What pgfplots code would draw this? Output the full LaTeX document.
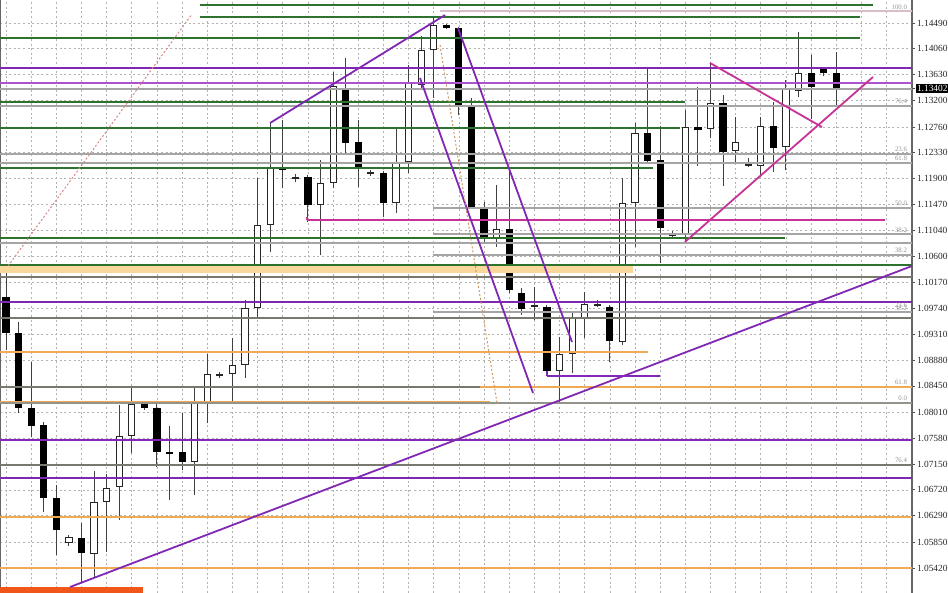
\documentclass[border=0pt]{standalone}
\usepackage{pgfplots}
\pgfplotsset{compat=1.18}
\usepackage{pgfplotstable}
\usepackage{fontspec}
\setmainfont{Liberation Serif}

\definecolor{mtpurple}{RGB}{128,40,180}
\definecolor{mtlav}{RGB}{172,84,205}
\definecolor{mtmag}{RGB}{200,50,150}
\definecolor{mtgreen}{RGB}{45,115,45}
\definecolor{mtgray}{RGB}{165,165,165}
\definecolor{mtdgray}{RGB}{120,120,110}
\definecolor{mtorange}{RGB}{240,170,85}
\definecolor{mtband}{RGB}{250,215,155}
\definecolor{mtred}{RGB}{240,85,25}
\definecolor{mtpink}{RGB}{215,135,135}
\definecolor{mtpinkl}{RGB}{215,190,200}
\definecolor{mtbrown}{RGB}{205,150,90}

% bullish candles: index open high low close
\pgfplotstableread{
i o h l c
5 1.05836 1.05970 1.05786 1.05936
7 1.05653 1.07035 1.05271 1.06519
8 1.06519 1.06985 1.05687 1.06752
9 1.06768 1.08133 1.06219 1.07617
10 1.07617 1.08433 1.07334 1.08150
15 1.07184 1.08433 1.06635 1.08183
16 1.08166 1.08982 1.07833 1.08649
17 1.08615 1.08682 1.08582 1.08649
18 1.08649 1.09248 1.08166 1.08799
19 1.08799 1.09881 1.08582 1.09747
20 1.09747 1.11911 1.09581 1.11129
21 1.11129 1.12826 1.10679 1.12094
23 1.11894 1.11977 1.11844 1.11928
25 1.11461 1.12210 1.10629 1.11828
26 1.11828 1.13675 1.11744 1.13442
29 1.11977 1.12044 1.11944 1.12010
31 1.11495 1.12743 1.11328 1.12177
32 1.12177 1.13791 1.11994 1.13492
33 1.13458 1.14274 1.13375 1.14041
34 1.14041 1.14573 1.13242 1.14457
39 1.10896 1.11795 1.10762 1.11062
42 1.09764 1.10097 1.09547 1.09797
44 1.08699 1.09265 1.08166 1.08982
45 1.08982 1.09681 1.08665 1.09581
46 1.09581 1.10014 1.09248 1.09814
47 1.09781 1.09881 1.09764 1.09814
49 1.09181 1.11911 1.09132 1.11495
50 1.11495 1.12826 1.10762 1.12660
53 1.10945 1.11029 1.10896 1.10979
54 1.10962 1.13043 1.10829 1.12759
56 1.12726 1.13841 1.12576 1.13159
58 1.12360 1.12926 1.12160 1.12510
59 1.12110 1.12244 1.12094 1.12144
60 1.12110 1.12926 1.11928 1.12776
62 1.12427 1.13542 1.12044 1.13392
63 1.13359 1.14340 1.13259 1.13658
}\bull

% bearish candles: index open high low close
\pgfplotstableread{
i o h l c
0 1.09930 1.10430 1.09048 1.09331
1 1.09331 1.09514 1.08000 1.08083
2 1.08083 1.08849 1.07600 1.07784
3 1.07800 1.07850 1.06352 1.06585
4 1.06585 1.06802 1.05637 1.06053
6 1.05920 1.06169 1.05187 1.05670
11 1.08166 1.08183 1.08050 1.08083
12 1.08083 1.08150 1.07101 1.07351
13 1.07351 1.07784 1.06552 1.07318
14 1.07351 1.08000 1.07051 1.07184
22 1.12094 1.12876 1.11744 1.12044
24 1.11928 1.11961 1.11178 1.11461
27 1.13408 1.13908 1.12327 1.12493
28 1.12510 1.12876 1.11761 1.12060
30 1.11994 1.12027 1.11262 1.11495
35 1.14457 1.14474 1.14390 1.14407
36 1.14407 1.14424 1.12959 1.13126
37 1.13109 1.13242 1.11411 1.11428
38 1.11411 1.11511 1.10829 1.10896
40 1.11062 1.12044 1.09997 1.10047
41 1.09997 1.10080 1.09631 1.09731
43 1.09764 1.09797 1.08682 1.08699
48 1.09764 1.09797 1.08849 1.09198
51 1.12660 1.13758 1.12160 1.12194
52 1.12210 1.12776 1.10496 1.11079
55 1.12759 1.13425 1.12110 1.12708
57 1.13159 1.13292 1.11778 1.12343
61 1.12776 1.13176 1.12010 1.12410
64 1.13658 1.13958 1.12893 1.13425
65 1.13725 1.13725 1.13608 1.13658
66 1.13658 1.14008 1.13092 1.13392
}\bear

\newcommand{\hl}[4]{\addplot[#4] coordinates {(#1,#3) (#2,#3)};}
\newcommand{\fib}[2]{\node[anchor=south east, font=\fontsize{3.4}{3.6}\selectfont, text=gray!85, inner sep=0.3pt] at (axis cs:71.7,#1) {#2};}

\begin{document}
\begin{tikzpicture}
\useasboundingbox (0,0) rectangle (474pt,296.5pt);
\begin{axis}[
  at={(0,0)}, anchor=south west,
  scale only axis, width=456pt, height=296.5pt,
  xmin=-0.48, xmax=72.02, ymin=1.05004, ymax=1.14873,
  no markers,
  xtick={0,2,...,72}, xticklabels={}, xtick style={draw=none},
  ytick={1.05420,1.05850,1.06290,1.06720,1.07150,1.07580,1.08010,1.08450,1.08880,1.09310,1.09740,1.10170,1.10600,1.11040,1.11470,1.11900,1.12330,1.12760,1.13200,1.13630,1.14060,1.14490},
  yticklabels={1.05420,1.05850,1.06290,1.06720,1.07150,1.07580,1.08010,1.08450,1.08880,1.09310,1.09740,1.10170,1.10600,1.11040,1.11470,1.11900,1.12330,1.12760,1.13200,1.13630,1.14060,1.14490},
  ytick pos=right, yticklabel pos=right,
  tick align=outside, major tick length=1.6pt,
  ytick style={black!70, line width=0.4pt},
  grid=major,
  major grid style={gray!60, line width=0.35pt, dash pattern=on 1pt off 1.3pt},
  separate axis lines,
  x axis line style={draw=none},
  y axis line style={draw=black!60, line width=0.6pt},
  yticklabel style={font=\fontsize{4.7}{5}\selectfont, text=black!85, inner sep=0.7pt, anchor=west},
  extra y ticks={1.13402}, extra y tick labels={1.13402},
  extra y tick style={grid=none, yticklabel style={fill=black, text=white}},
]

% ---- candles: wicks
\addplot[draw=none, error bars/.cd, y dir=plus, y explicit, error mark=none,
  error bar style={draw=black!75, line width=0.5pt}]
  table[x=i, y=l, y error expr=\thisrow{h}-\thisrow{l}] {\bull};
\addplot[draw=none, error bars/.cd, y dir=plus, y explicit, error mark=none,
  error bar style={draw=black!75, line width=0.5pt}]
  table[x=i, y=l, y error expr=\thisrow{h}-\thisrow{l}] {\bear};
% ---- bearish bodies
\addplot[draw=none, error bars/.cd, y dir=plus, y explicit, error mark=none,
  error bar style={draw=black, line width=3.6pt}]
  table[x=i, y=c, y error expr=\thisrow{o}-\thisrow{c}] {\bear};
% ---- bullish bodies (outline then white fill)
\addplot[draw=none, error bars/.cd, y dir=plus, y explicit, error mark=none,
  error bar style={draw=black!85, line width=3.6pt}]
  table[x=i, y=o, y error expr=\thisrow{c}-\thisrow{o}] {\bull};
\addplot[draw=none, error bars/.cd, y dir=plus, y explicit, error mark=none,
  error bar style={draw=white, line width=2.6pt}]
  table[x=i, y expr=\thisrow{o}+0.00017, y error expr={max(\thisrow{c}-\thisrow{o}-0.00034,0)}] {\bull};

% ---- horizontal levels
\hl{15.42}{68.92}{1.14790}{mtgreen, line width=0.8pt}
\hl{34.5}{73}{1.14690}{mtpinkl, line width=0.7pt}
\hl{15.42}{67.89}{1.14590}{mtgreen, line width=0.8pt}
\hl{-1}{67.89}{1.14241}{mtgreen, line width=0.8pt}
\hl{-1}{73}{1.13741}{mtpurple, line width=1.3pt}
\hl{-1}{73}{1.13492}{mtlav, line width=1.3pt}
\hl{-1}{73}{1.13392}{mtgray, line width=0.6pt}
\hl{-1}{53.97}{1.13176}{mtgreen, line width=0.8pt}
\hl{-1}{73}{1.13109}{mtgray, line width=0.7pt}
\hl{-1}{53.58}{1.12743}{mtgreen, line width=0.8pt}
\hl{-1}{73}{1.12310}{mtgray, line width=0.7pt}
\hl{-1}{73}{1.12160}{mtgray, line width=1.1pt}
\hl{-1}{51.43}{1.12077}{mtgreen, line width=0.8pt}
\hl{33.94}{73}{1.11411}{mtgray, line width=0.7pt}
\hl{23.93}{69.87}{1.11212}{mtmag, line width=0.9pt}
\addplot[mtmag, line width=0.9pt] coordinates {(23.93,1.11262) (23.93,1.11212)};
\hl{33.94}{73}{1.10979}{mtgray, line width=0.6pt}
\hl{-1}{61.92}{1.10912}{mtgreen, line width=0.8pt}
\hl{-1}{73}{1.10829}{mtgray, line width=0.7pt}
\hl{33.94}{73}{1.10629}{mtgray, line width=0.7pt}
\hl{-1}{73}{1.10463}{mtgreen, line width=0.8pt}
\hl{-1}{49.84}{1.10380}{mtband, line width=3.5pt}
\hl{-1}{73}{1.10263}{mtdgray, line width=0.7pt}
\hl{-1}{73}{1.09847}{mtpurple, line width=1.3pt}
\hl{33.94}{73}{1.09681}{mtgray, line width=0.7pt}
\hl{-1}{73}{1.09581}{mtdgray, line width=0.8pt}
\hl{-1}{51.03}{1.09014}{mtorange, line width=0.9pt}
\hl{43.0}{51.99}{1.08615}{mtpurple, line width=0.9pt}
\addplot[mtpurple, line width=0.9pt] coordinates {(43.0,1.08699) (43.0,1.08615)};
\hl{-1}{73}{1.08433}{mtdgray, line width=0.7pt}
\hl{37.68}{73}{1.08433}{mtorange, line width=1.2pt}
\hl{-1}{38.47}{1.08183}{mtorange, line width=0.9pt}
\hl{-1}{73}{1.08166}{mtdgray!80, line width=0.6pt}
\hl{-1}{73}{1.07551}{mtpurple, line width=1.3pt}
\hl{-1}{73}{1.07134}{mtdgray, line width=0.8pt}
\hl{-1}{73}{1.06918}{mtpurple, line width=1.3pt}
\hl{-1}{73}{1.06269}{mtorange, line width=1pt}
\hl{-1}{73}{1.05420}{mtorange, line width=1pt}
\hl{-1}{10.89}{1.05046}{mtred, line width=3pt}

% ---- trend lines and channels
\addplot[mtpurple, line width=0.9pt] coordinates {(5.09,1.05104) (72.02,1.10446)};
\addplot[mtpurple, line width=0.9pt] coordinates {(20.99,1.12826) (34.90,1.14623)};
\addplot[mtpurple, line width=0.9pt] coordinates {(32.91,1.13575) (41.89,1.08333)};
\addplot[mtpurple, line width=0.9pt] coordinates {(35.93,1.14407) (44.99,1.09181)};
\addplot[mtmag, line width=0.9pt] coordinates {(55.96,1.13825) (64.86,1.12759)};
\addplot[mtmag, line width=0.9pt] coordinates {(53.97,1.10846) (68.92,1.13592)};
\addplot[mtpink, line width=0.5pt, dash pattern=on 1pt off 1pt] coordinates {(0.16,1.10446) (14.79,1.14640)};
\addplot[mtbrown, line width=0.5pt, dash pattern=on 1pt off 1pt] coordinates {(34.5,1.14124) (39.03,1.08166)};

% ---- fibonacci level labels
\fib{1.14690}{100.0}
\fib{1.13126}{76.4}
\fib{1.12327}{23.6}
\fib{1.12177}{61.8}
\fib{1.11428}{50.0}
\fib{1.10979}{38.2}
\fib{1.10646}{38.2}
\fib{1.09731}{23.6}
\fib{1.09681}{38.2}
\fib{1.08450}{61.8}
\fib{1.08183}{0.0}
\fib{1.07151}{76.4}
\end{axis}
\end{tikzpicture}
\end{document}
